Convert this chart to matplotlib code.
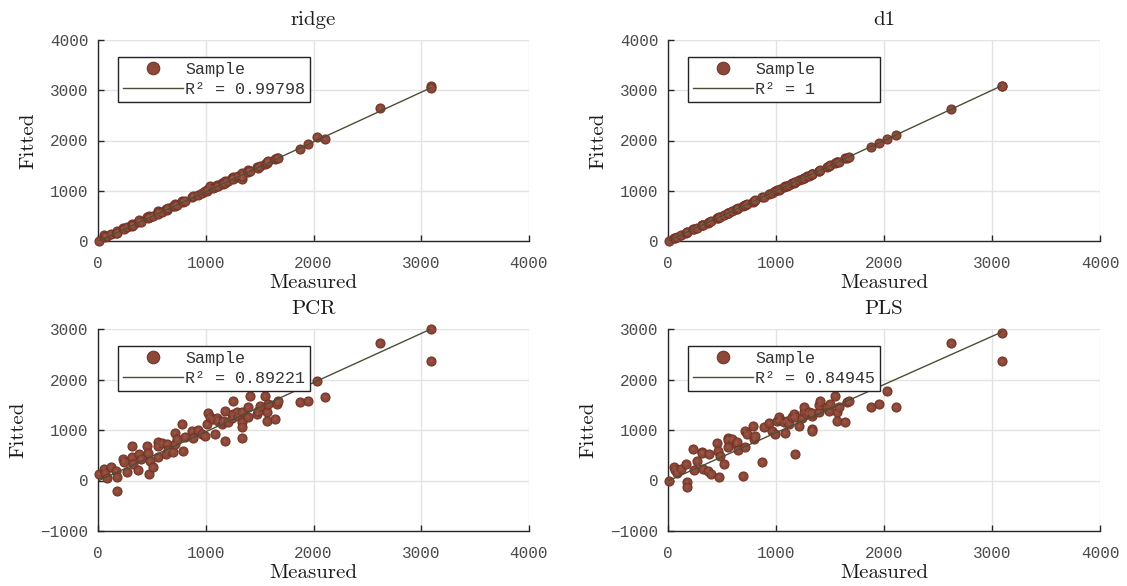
import matplotlib
matplotlib.use("Agg")
import matplotlib.pyplot as plt
import matplotlib.ticker as mticker
from matplotlib.lines import Line2D

# ---------------- data ----------------
measured = [9, 59, 65, 80, 120, 164, 173, 173, 235, 244, 266, 312, 319, 328, 368,
            384, 399, 451, 467, 473, 483, 514, 554, 560, 560, 591, 628, 637, 647,
            699, 715, 715, 730, 783, 792, 807, 869, 885, 931, 962, 993, 1008, 1024,
            1039, 1070, 1086, 1101, 1117, 1148, 1163, 1179, 1179, 1210, 1241, 1256,
            1256, 1287, 1302, 1333, 1333, 1333, 1333, 1395, 1395, 1410, 1472, 1488,
            1503, 1550, 1565, 1565, 1580, 1643, 1658, 1673, 1875, 1952, 2029, 2107,
            2620, 3090, 3090]

ridge_fitted = [5, 110, 70, 95, 130, 150, 190, 160, 250, 230, 270, 330, 300, 320, 370,
                410, 380, 470, 450, 490, 470, 500, 600, 570, 540, 580, 640, 610, 660,
                690, 740, 700, 720, 800, 780, 790, 870, 900, 910, 950, 1000, 990, 1030,
                1100, 1060, 1070, 1110, 1100, 1160, 1140, 1200, 1150, 1190, 1250, 1280,
                1240, 1270, 1300, 1320, 1350, 1240, 1300, 1420, 1380, 1400, 1470, 1460,
                1490, 1540, 1570, 1550, 1590, 1640, 1660, 1650, 1840, 1940, 2060, 2030,
                2640, 3090, 3040]

d1_fitted = [9, 59, 65, 80, 120, 164, 173, 173, 235, 244, 266, 312, 319, 328, 368,
             384, 399, 451, 467, 473, 483, 514, 554, 560, 560, 591, 628, 637, 647,
             699, 715, 715, 730, 783, 792, 807, 869, 885, 931, 962, 993, 1008, 1024,
             1039, 1070, 1086, 1101, 1117, 1148, 1163, 1179, 1179, 1210, 1241, 1256,
             1256, 1287, 1302, 1333, 1333, 1333, 1333, 1395, 1395, 1410, 1472, 1488,
             1503, 1550, 1565, 1565, 1580, 1643, 1658, 1673, 1875, 1952, 2029, 2107,
             2620, 3090, 3090]

pcr_fitted = [119, 231, 145, 40, 277, 198, 66, -212, 429, 363, 178, 462, 693, 330, 211,
              528, 429, 693, 541, 132, 383, 264, 759, 693, 462, 739, 515, 726, 607,
              561, 937, 726, 825, 1109, 594, 858, 990, 845, 1004, 925, 891, 1109, 1333,
              1267, 1221, 925, 1241, 1188, 1122, 1188, 1386, 792, 1155, 1241, 1307,
              1584, 1353, 1287, 1353, 1155, 1069, 845, 1452, 1254, 1683, 1320, 1386,
              1485, 1683, 1353, 1188, 1518, 1221, 1518, 1584, 1551, 1584, 1980, 1663,
              2730, 3000, 2370]

pls_fitted = [-13, 270, 200, 145, 230, 317, -33, -132, 627, 200, 383, 561, 540, 230, 185,
              528, 119, 739, 581, 66, 495, 317, 851, 800, 660, 830, 713, 759, 600,
              99, 990, 660, 920, 1089, 825, 891, 363, 1069, 1135, 990, 920, 1180, 1250,
              1200, 1150, 940, 1180, 1120, 1250, 1320, 1254, 515, 1089, 1228, 1353,
              1450, 1320, 1353, 1287, 1023, 977, 1340, 1353, 1500, 1584, 1452, 1386,
              1518, 1683, 1353, 1188, 1452, 1155, 1551, 1584, 1452, 1518, 1782, 1465,
              2730, 2930, 2370]

line_x = [9, 3090]
ridge_line = [5, 3050]
d1_line = [9, 3090]
pcr_line = [0, 3000]
pls_line = [0, 2940]

titles = ["ridge", "d1", "PCR", "PLS"]
r2_labels = ["R\u00b2 = 0.99798", "R\u00b2 = 1", "R\u00b2 = 0.89221", "R\u00b2 = 0.84945"]
x_ticks = [0, 1000, 2000, 3000, 4000]
y_ticks_top = [0, 1000, 2000, 3000, 4000]
y_ticks_bottom = [-1000, 0, 1000, 2000, 3000]

# ---------------- styling ----------------
MONO = "Liberation Mono"
SERIF = "cmr10"
face = "#8c4838"
edge = "#733426"
star = "#a8685a"
line_col = "#4d4d36"
spine_col = "#262626"
grid_col = "#e3e3e3"
tick_txt = "#4a4a4a"

fig = plt.figure(figsize=(11.27, 5.86), dpi=100)

W, H = 1127.0, 586.0
panels = [
    (98, 40, 431, 201),
    (668, 40, 432, 201),
    (98, 329, 431, 202),
    (668, 329, 432, 202),
]
fits = [ridge_fitted, d1_fitted, pcr_fitted, pls_fitted]
lines = [ridge_line, d1_line, pcr_line, pls_line]
label_width = max(len(s) for s in r2_labels)


def fmt(v, p):
    return ("\u2212" + str(int(-v))) if v < 0 else str(int(v))


for i, (px, py, pw, ph) in enumerate(panels):
    ax = fig.add_axes([px / W, 1 - (py + ph) / H, pw / W, ph / H])
    ax.set_xlim(0, 4000)
    if i < 2:
        ax.set_ylim(0, 4000)
        ax.set_yticks(y_ticks_top)
    else:
        ax.set_ylim(-1000, 3000)
        ax.set_yticks(y_ticks_bottom)
    ax.set_xticks(x_ticks)
    ax.grid(True, color=grid_col, linewidth=1.0, zorder=0)
    ax.set_axisbelow(True)
    for s in ["top", "right"]:
        ax.spines[s].set_visible(False)
    for s in ["left", "bottom"]:
        ax.spines[s].set_color(spine_col)
        ax.spines[s].set_linewidth(1.0)
    ax.tick_params(direction="in", length=4, width=1, color=spine_col,
                   labelcolor=tick_txt, labelsize=11.5)
    ax.tick_params(axis="x", pad=11)
    ax.tick_params(axis="y", pad=7)
    ax.yaxis.set_major_formatter(mticker.FuncFormatter(fmt))
    ax.xaxis.set_major_formatter(mticker.FuncFormatter(fmt))
    for lab in ax.get_xticklabels() + ax.get_yticklabels():
        lab.set_fontfamily(MONO)

    ax.plot(measured, fits[i], linestyle="none", marker="o", markersize=6.5,
            markerfacecolor=face, markeredgecolor=edge, markeredgewidth=0.8,
            zorder=3, clip_on=False)
    ax.plot(measured, fits[i], linestyle="none", marker="+", markersize=3.5,
            markeredgecolor=star, markeredgewidth=0.3, zorder=3.5, clip_on=False)
    ax.plot(line_x, lines[i], color=line_col, linewidth=1.0, zorder=4)

    ax.set_title(titles[i], fontfamily=SERIF, fontsize=15, pad=11, color="#1a1a1a")
    ax.set_xlabel("Measured", fontfamily=SERIF, fontsize=15, labelpad=2, color="#1a1a1a")
    ax.set_ylabel("Fitted", fontfamily=SERIF, fontsize=15, labelpad=9, color="#1a1a1a")

    handles = [
        Line2D([], [], linestyle="none", marker="o", markersize=9,
               markerfacecolor=face, markeredgecolor=edge, markeredgewidth=0.8),
        Line2D([], [], color=line_col, linewidth=1.0),
    ]
    leg = ax.legend(handles, ["Sample", r2_labels[i].ljust(label_width, "\u00a0")],
                    loc="upper left",
                    bbox_to_anchor=(0.046, 0.915), prop={"family": MONO, "size": 12},
                    frameon=True, fancybox=False, edgecolor="#222222", framealpha=1,
                    handlelength=3.6, handletextpad=0.15, borderpad=0.3,
                    labelspacing=0.3, borderaxespad=0)
    leg.get_frame().set_linewidth(1.0)
    for t in leg.get_texts():
        t.set_color("#333333")
    leg.set_zorder(10)

fig.savefig("out.png", dpi=100, facecolor="white")
